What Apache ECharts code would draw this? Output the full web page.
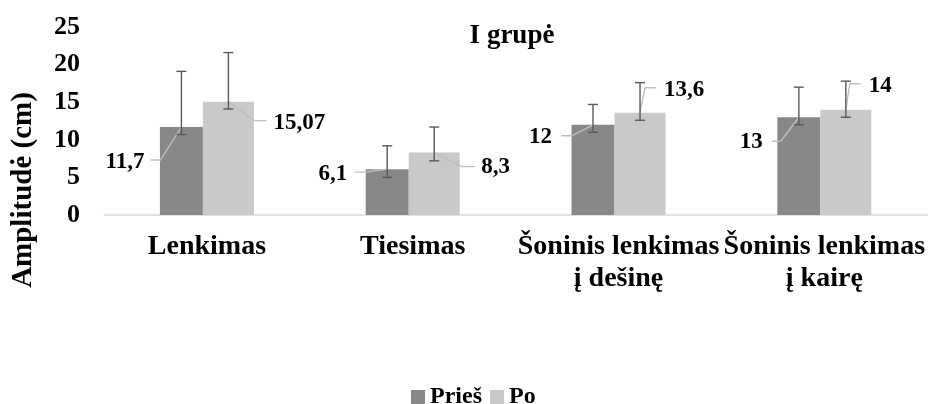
<!DOCTYPE html>
<html>
<head>
<meta charset="utf-8">
<script src="https://cdn.jsdelivr.net/npm/echarts@6/dist/echarts.min.js"></script>
<style>
  html, body { margin: 0; padding: 0; background: #fff; }
  #chart { width: 928px; height: 404px; }
</style>
</head>
<body>
<div id="chart"></div>
<script>
var categories = ['Lenkimas', 'Tiesimas', 'Šoninis lenkimas\nį dešinę', 'Šoninis lenkimas\nį kairę'];
var pries = [11.7, 6.1, 12, 13];
var po = [15.07, 8.3, 13.6, 14];
// error bars (low / high ends)
var priesLow = [10.7, 5.0, 11.0, 12.0];
var priesHigh = [19.1, 9.2, 14.7, 17.0];
var poLow = [14.1, 7.2, 12.6, 13.0];
var poHigh = [21.6, 11.7, 17.6, 17.8];
var yTicks = [0, 5, 10, 15, 20, 25];

var font = 'Liberation Serif';
var W1 = 43, W2 = 51;

// label leader layout: [elbowDx, elbowDy, endDx, endDy, textDx, textDy, align]
var priesLabelPos = [
    [-21, 33, -31, 33, -37, 35, 'right'],
    [-22, 3, -33, 3, -40, 5, 'right'],
    [-21, 11, -32, 11, -41, 12, 'right'],
    [-18, 24, -27, 24, -36, 25, 'right']
];
var poLabelPos = [
    [26, 19, 38, 19, 45, 21, 'left'],
    [28, 14, 41, 14, 47, 14, 'left'],
    [5, -25, 16, -25, 24, -23, 'left'],
    [4, -26, 15, -26, 23, -24, 'left']
];

function overlay(values, low, high, dx, pos) {
    return {
        type: 'custom',
        z: 10,
        data: values.map(function (v, i) { return [i, v, low[i], high[i]]; }),
        encode: { x: 0, y: [1, 2, 3] },
        renderItem: function (params, api) {
            var i = api.value(0);
            var top = api.coord([i, api.value(1)]);
            var lo = api.coord([i, api.value(2)]);
            var hi = api.coord([i, api.value(3)]);
            var x = top[0] + dx;
            var y = top[1];
            var p = pos[i];
            var err = { stroke: '#595959', lineWidth: 1.4 };
            return {
                type: 'group',
                children: [
                    { type: 'polyline', shape: { points: [[x, y], [x + p[0], y + p[1]], [x + p[2], y + p[3]]] },
                      style: { stroke: '#bfbfbf', lineWidth: 1.4, fill: null } },
                    { type: 'line', shape: { x1: x, y1: hi[1], x2: x, y2: lo[1] }, style: err },
                    { type: 'line', shape: { x1: x - 5, y1: hi[1], x2: x + 5, y2: hi[1] }, style: err },
                    { type: 'line', shape: { x1: x - 5, y1: lo[1], x2: x + 5, y2: lo[1] }, style: err },
                    { type: 'text', x: x + p[4], y: y + p[5],
                      style: { text: String(api.value(1)).replace('.', ','), fill: '#000', font: 'bold 23px "' + font + '"',
                               align: p[6], verticalAlign: 'middle' } }
                ]
            };
        }
    };
}

var myChart = echarts.init(document.getElementById('chart'));
var option = {
    animation: false,
    title: {
        text: 'I grupė',
        left: 507,
        top: 18,
        textAlign: 'center',
        textStyle: { fontFamily: font, fontWeight: 'bold', fontSize: 27, color: '#000' }
    },
    legend: {
        data: ['Prieš', 'Po'],
        left: 406,
        top: 380,
        itemWidth: 14,
        itemHeight: 14,
        itemGap: 8,
        icon: 'rect',
        textStyle: { fontFamily: font, fontWeight: 'bold', fontSize: 24, color: '#000' }
    },
    graphic: [{
        type: 'text',
        x: 24, y: 190,
        rotation: Math.PI / 2,
        style: { text: 'Amplitudė (cm)', font: 'bold 29px "' + font + '"', fill: '#000', align: 'center', verticalAlign: 'middle' }
    }],
    grid: { left: 104, right: 0, top: 27, bottom: 189, containLabel: false },
    xAxis: {
        type: 'category',
        data: categories,
        axisLine: { lineStyle: { color: '#d9d9d9', width: 1.5 } },
        axisTick: { show: false },
        axisLabel: { interval: 0, margin: 16, color: '#000', fontFamily: font, fontWeight: 'bold', fontSize: 28, lineHeight: 32 }
    },
    yAxis: {
        type: 'value',
        min: yTicks[0],
        max: yTicks[yTicks.length - 1],
        interval: 5,
        axisLine: { show: false },
        axisTick: { show: false },
        splitLine: { show: false },
        axisLabel: { margin: 24, color: '#000', fontFamily: font, fontWeight: 'bold', fontSize: 26 }
    },
    series: [{
        name: 'Prieš',
        type: 'bar',
        data: pries,
        barWidth: W1,
        barGap: 0,
        itemStyle: { color: '#888888' }
    }, {
        name: 'Po',
        type: 'bar',
        data: po,
        barWidth: W2,
        barGap: 0,
        itemStyle: { color: '#c9c9c9' }
    },
    overlay(pries, priesLow, priesHigh, -(W1 + W2) / 2 + W1 / 2, priesLabelPos),
    overlay(po, poLow, poHigh, -(W1 + W2) / 2 + W1 + W2 / 2, poLabelPos)
    ]
};
myChart.setOption(option);
</script>
</body>
</html>
